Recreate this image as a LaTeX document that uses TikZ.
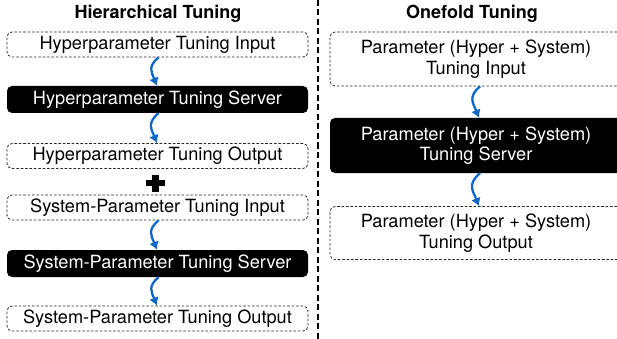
\documentclass[tikz,border=0pt]{standalone}
\usepackage{fontspec}
\setmainfont{TeX Gyre Heros}
\usetikzlibrary{arrows.meta}
\definecolor{flowblue}{RGB}{14,102,200}

\begin{document}
\begin{tikzpicture}[x=1pt,y=-1pt,
  every node/.style={font=\fontsize{18.2}{20.5}\selectfont, inner sep=0pt},
  iobox/.style={draw=black!85, dash pattern=on 2.6pt off 1.8pt, line width=0.8pt,
    rounded corners=5pt, align=center},
  srvbox/.style={fill=black, text=white, rounded corners=5pt, align=center},
  flow/.style={draw=flowblue, line width=2.3pt, -{Latex[length=8pt,width=10pt]}},
  title/.style={font=\fontsize{18}{20}\selectfont\bfseries}]
\useasboundingbox (0,0) rectangle (617,339);

% separator
\draw[line width=1.2pt, dash pattern=on 6pt off 3.5pt] (318,0) -- (318,339);

% hierarchical tuning
\node[title] (htitle) at (158,14) {Hierarchical Tuning};
\node[iobox, minimum width=301pt, minimum height=25pt] (hin)   at (157.5,44.5)  {Hyperparameter Tuning Input};
\node[srvbox, minimum width=301pt, minimum height=27pt] (hsrv) at (157.5,99.5)  {Hyperparameter Tuning Server};
\node[iobox, minimum width=301pt, minimum height=25pt] (hout)  at (157.5,156)   {Hyperparameter Tuning Output};
\node[iobox, minimum width=301pt, minimum height=25pt] (sin)   at (157.5,207.5) {System-Parameter Tuning Input};
\node[srvbox, minimum width=301pt, minimum height=27pt] (ssrv) at (157.5,263.5) {System-Parameter Tuning Server};
\node[iobox, minimum width=301pt, minimum height=25pt] (sout)  at (157.5,318.5) {System-Parameter Tuning Output};

% plus sign
\fill (146,179.8) rectangle (165,186.4);
\fill (151.8,174.6) rectangle (159.2,191.6);

\draw[flow] ([xshift=1pt]hin.south)  to[out=-140,in=112,looseness=1.3] ([xshift=-0.5pt]hsrv.north);
\draw[flow] ([xshift=1pt]hsrv.south) to[out=-140,in=112,looseness=1.3] ([xshift=-0.5pt]hout.north);
\draw[flow] ([xshift=1pt]sin.south)  to[out=-140,in=112,looseness=1.3] ([xshift=-0.5pt]ssrv.north);
\draw[flow] ([xshift=1pt]ssrv.south) to[out=-140,in=112,looseness=1.3] ([xshift=-0.5pt]sout.north);

% onefold tuning
\node[title] (otitle) at (472,14) {Onefold Tuning};
\node[iobox, minimum width=292pt, minimum height=54pt] (oin)   at (476,59)   {Parameter (Hyper + System)\\Tuning Input};
\node[srvbox, minimum width=292pt, minimum height=55pt] (osrv) at (476,145.5) {Parameter (Hyper + System)\\Tuning Server};
\node[iobox, minimum width=292pt, minimum height=53pt] (oout)  at (476,233)  {Parameter (Hyper + System)\\Tuning Output};

\draw[flow] ([xshift=4pt]oin.south)  to[out=-140,in=112,looseness=1.3] ([xshift=3pt]osrv.north);
\draw[flow] ([xshift=4pt]osrv.south) to[out=-140,in=112,looseness=1.3] ([xshift=3pt]oout.north);
\end{tikzpicture}
\end{document}
